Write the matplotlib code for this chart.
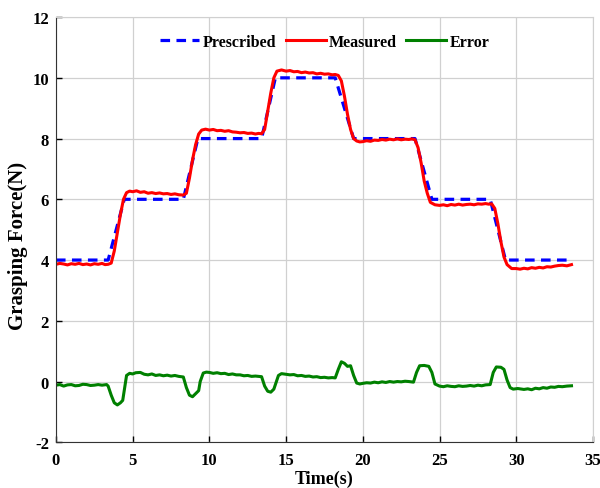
import numpy as np
import matplotlib
matplotlib.use("Agg")
import matplotlib.pyplot as plt

plt.rcParams['font.family'] = ['Liberation Serif', 'DejaVu Serif']
plt.rcParams['font.weight'] = 'bold'
plt.rcParams['axes.unicode_minus'] = False

# prescribed force profile
pres_t = [0, 3.4, 4.45, 8.3, 9.25, 13.4, 14.3, 18.2, 19.4, 23.4, 24.5, 28.3, 29.3, 33.3]
pres_f = [4, 4, 6, 6, 8, 8, 10, 10, 8, 8, 6, 6, 4, 4]

# measured force
meas_t = [0.0, 0.25, 0.5, 0.75, 1.0, 1.25, 1.5, 1.75, 2.0, 2.25, 2.5, 2.75, 3.0, 3.2, 3.4, 3.6, 3.8, 4.0, 4.2, 4.4, 4.6, 4.8,
          5.0, 5.25, 5.5, 5.75, 6.0, 6.25, 6.5, 6.75, 7.0, 7.25, 7.5, 7.75, 8.0, 8.3, 8.5, 8.7, 8.9, 9.1, 9.3, 9.5,
          9.75, 10.0, 10.25, 10.5, 10.75, 11.0, 11.25, 11.5, 11.75, 12.0, 12.25, 12.5, 12.75, 13.0, 13.2, 13.4, 13.6, 13.8, 14.0, 14.2, 14.4, 14.7,
          15.0, 15.25, 15.5, 15.75, 16.0, 16.25, 16.5, 16.75, 17.0, 17.25, 17.5, 17.75, 18.0, 18.2, 18.4, 18.6, 18.8, 19.0, 19.2, 19.4, 19.6,
          19.8, 20.0, 20.25, 20.5, 20.75, 21.0, 21.25, 21.5, 21.75, 22.0, 22.25, 22.5, 22.75, 23.0, 23.2, 23.4, 23.6, 23.8, 24.0, 24.2, 24.4, 24.7,
          25.0, 25.25, 25.5, 25.75, 26.0, 26.25, 26.5, 26.75, 27.0, 27.25, 27.5, 27.75, 28.0, 28.2, 28.4, 28.6, 28.8, 29.0, 29.2, 29.4, 29.7,
          30.0, 30.25, 30.5, 30.75, 31.0, 31.25, 31.5, 31.75, 32.0, 32.25, 32.5, 32.75, 33.0, 33.3, 33.6]
meas_f = [3.86, 3.89, 3.87, 3.84, 3.88, 3.86, 3.89, 3.85, 3.87, 3.84, 3.88, 3.86, 3.89, 3.85, 3.86, 3.90, 4.30, 4.90, 5.50, 6.00, 6.22, 6.27,
          6.25, 6.28, 6.23, 6.25, 6.20, 6.22, 6.19, 6.21, 6.18, 6.19, 6.16, 6.18, 6.15, 6.14, 6.20, 6.70, 7.30, 7.80, 8.15, 8.28,
          8.31, 8.28, 8.30, 8.26, 8.27, 8.24, 8.26, 8.22, 8.21, 8.19, 8.20, 8.17, 8.18, 8.15, 8.17, 8.16, 8.30, 8.90, 9.50, 10.00, 10.22, 10.26,
          10.22, 10.24, 10.20, 10.21, 10.17, 10.19, 10.16, 10.17, 10.13, 10.15, 10.12, 10.13, 10.10, 10.11, 10.08, 9.90, 9.40, 8.80, 8.30, 8.00, 7.92,
          7.89, 7.90, 7.93, 7.91, 7.95, 7.94, 7.97, 7.95, 7.98, 7.96, 7.99, 7.96, 7.98, 7.97, 7.99, 7.96, 7.70, 7.20, 6.60, 6.20, 5.90, 5.82,
          5.80, 5.82, 5.79, 5.83, 5.81, 5.84, 5.81, 5.83, 5.84, 5.82, 5.85, 5.84, 5.86, 5.84, 5.85, 5.70, 5.20, 4.60, 4.10, 3.85, 3.72,
          3.72, 3.70, 3.73, 3.71, 3.75, 3.73, 3.76, 3.74, 3.78, 3.77, 3.80, 3.82, 3.83, 3.81, 3.85]

# error
err_t = [0.0, 0.25, 0.5, 0.75, 1.0, 1.25, 1.5, 1.75, 2.0, 2.25, 2.5, 2.75, 3.0, 3.3, 3.4, 3.6, 3.8, 4.0, 4.2, 4.35, 4.45, 4.6, 4.8,
         5.0, 5.2, 5.5, 5.75, 6.0, 6.25, 6.5, 6.75, 7.0, 7.25, 7.5, 7.75, 8.0, 8.3, 8.5, 8.7, 8.9, 9.1, 9.3, 9.4, 9.6,
         9.8, 10.0, 10.25, 10.5, 10.75, 11.0, 11.25, 11.5, 11.75, 12.0, 12.25, 12.5, 12.75, 13.0, 13.4, 13.6, 13.8, 14.0, 14.2, 14.3, 14.5, 14.7,
         15.0, 15.25, 15.5, 15.75, 16.0, 16.25, 16.5, 16.75, 17.0, 17.25, 17.5, 17.75, 18.0, 18.2, 18.4, 18.6, 18.8, 19.0, 19.2, 19.4, 19.6,
         19.8, 20.0, 20.25, 20.5, 20.75, 21.0, 21.25, 21.5, 21.75, 22.0, 22.25, 22.5, 22.75, 23.0, 23.3, 23.5, 23.7, 24.0, 24.3, 24.5, 24.7,
         25.0, 25.25, 25.5, 25.75, 26.0, 26.25, 26.5, 26.75, 27.0, 27.25, 27.5, 27.75, 28.0, 28.3, 28.5, 28.7, 29.0, 29.2, 29.4, 29.6, 29.8,
         30.1, 30.5, 30.75, 31.0, 31.25, 31.5, 31.75, 32.0, 32.25, 32.5, 32.75, 33.0, 33.3, 33.6]
err_f = [-0.12, -0.10, -0.15, -0.11, -0.10, -0.14, -0.13, -0.09, -0.10, -0.13, -0.12, -0.10, -0.12, -0.10, -0.15, -0.45, -0.70, -0.77, -0.70, -0.62, -0.30, 0.20, 0.27,
         0.25, 0.29, 0.30, 0.24, 0.22, 0.25, 0.20, 0.22, 0.19, 0.21, 0.18, 0.20, 0.17, 0.15, -0.20, -0.45, -0.50, -0.40, -0.30, 0.00, 0.28,
         0.31, 0.30, 0.27, 0.29, 0.26, 0.27, 0.23, 0.25, 0.22, 0.22, 0.19, 0.20, 0.17, 0.18, 0.16, -0.15, -0.32, -0.35, -0.25, -0.10, 0.20, 0.26,
         0.24, 0.22, 0.23, 0.19, 0.20, 0.17, 0.18, 0.15, 0.16, 0.13, 0.14, 0.12, 0.13, 0.12, 0.40, 0.65, 0.60, 0.50, 0.52, 0.20, -0.05,
         -0.08, -0.06, -0.04, -0.05, -0.02, -0.04, -0.01, -0.03, 0.00, -0.02, 0.00, -0.01, 0.01, 0.00, -0.02, 0.30, 0.52, 0.53, 0.50, 0.30, -0.08,
         -0.15, -0.17, -0.14, -0.16, -0.17, -0.14, -0.16, -0.15, -0.13, -0.15, -0.12, -0.14, -0.11, -0.10, 0.30, 0.48, 0.47, 0.40, 0.05, -0.20, -0.25,
         -0.23, -0.26, -0.24, -0.27, -0.22, -0.24, -0.20, -0.22, -0.18, -0.19, -0.16, -0.17, -0.15, -0.14]

fig = plt.figure(figsize=(6, 4.89), dpi=100)
ax = fig.add_axes([0.0933, 0.0935, 0.895, 0.8695])

ax.plot(pres_t, pres_f, '--', color='#0000ff', lw=2.3, dashes=(3, 2), label='Prescribed')
ax.plot(meas_t, meas_f, '-', color='#ff0000', lw=2.2, label='Measured')
ax.plot(err_t, err_f, '-', color='#008000', lw=2.2, label='Error')

ax.set_xlim(0, 35)
ax.set_ylim(-2, 12)
ax.set_xticks(np.arange(0, 36, 5))
ax.set_yticks(np.arange(-2, 13, 2))
ax.grid(True, color='#d0d0d0', lw=0.9)
ax.set_axisbelow(True)
ax.tick_params(direction='in', labelsize=12, length=4, width=1)
ax.tick_params(axis='x', pad=7)
ax.tick_params(axis='y', pad=5)
for s in ['top', 'right']:
    ax.spines[s].set_color('#d0d0d0')
for s in ['left', 'bottom']:
    ax.spines[s].set_color('#333333')

ax.set_xlabel('Time(s)', fontsize=13, fontweight='bold', labelpad=1)
ax.set_ylabel('Grasping Force(N)', fontsize=15, fontweight='bold')
ax.yaxis.set_label_coords(-0.052, 0.465)

ax.legend(loc='upper center', ncol=3, frameon=False, prop={'weight': 'bold', 'size': 11.5},
          handlelength=2.5, columnspacing=0.6, handletextpad=0.2, bbox_to_anchor=(0.5, 0.995))

fig.savefig('out.png', dpi=100)
